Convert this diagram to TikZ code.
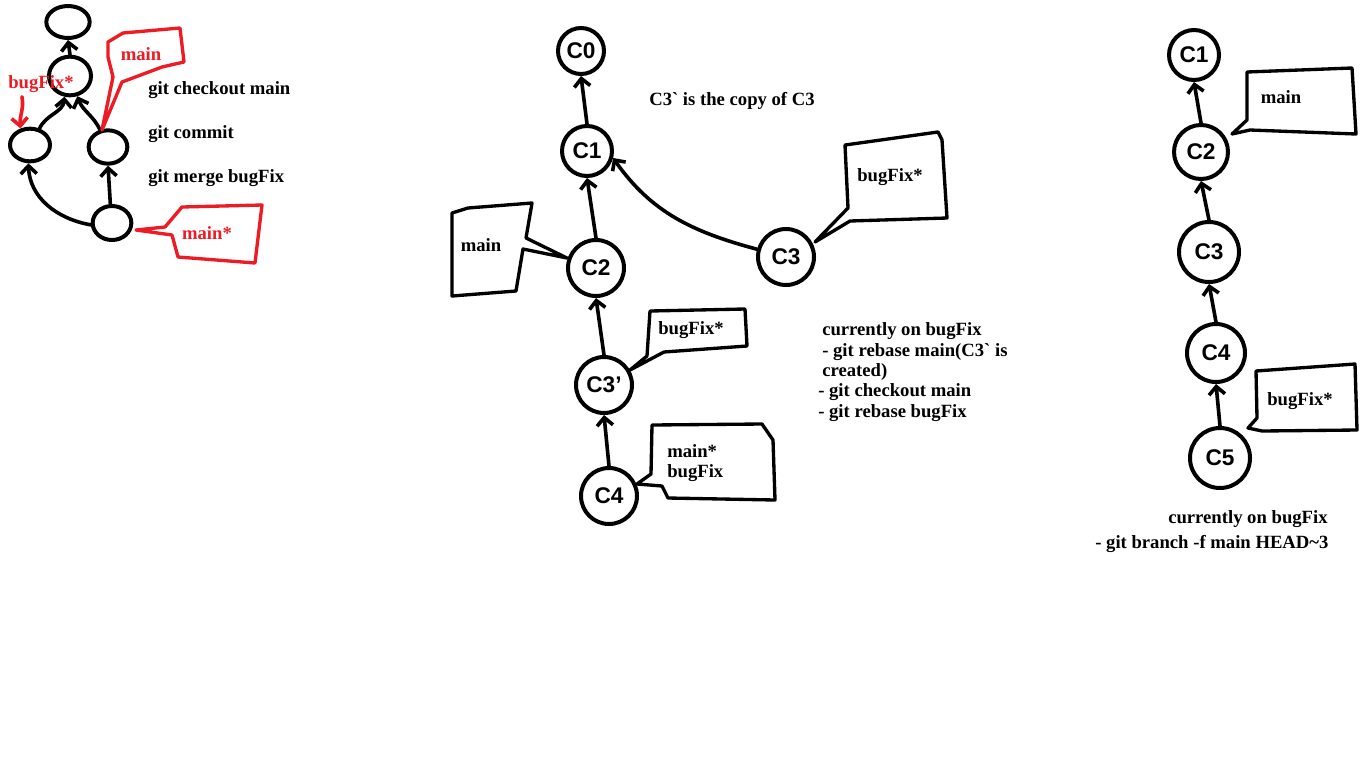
\documentclass[tikz,border=0pt]{standalone}
\usepackage{fontspec}
\setmainfont{Liberation Serif}
\setsansfont{Liberation Sans}
\usetikzlibrary{arrows.meta,shapes.geometric}
\definecolor{paintred}{RGB}{237,28,36}
\tikzset{
  commit/.style={circle, draw, line width=3pt, minimum size=#1, inner sep=0pt,
    font=\sffamily\bfseries\fontsize{17}{17}\selectfont},
  blob/.style={ellipse, draw, line width=3pt, inner sep=0pt},
  arr/.style={line width=2.7pt, line cap=round, -{Straight Barb[length=6pt,width=12pt]}},
  callout/.style={line width=2.5pt, line join=round},
  lbl/.style={font=\bfseries\fontsize{14}{16.5}\selectfont, inner sep=0pt},
}
\begin{document}
\begin{tikzpicture}[x=0.75pt,y=0.75pt]
\useasboundingbox[fill=white] (0,0) rectangle (1366,-768);
% ---------- left diagram ----------
\node[blob, minimum width=32.5pt, minimum height=24pt] (e1) at (68,-22) {};
\node[blob, minimum width=31.5pt, minimum height=29pt] (e2) at (70,-76) {};
\node[blob, minimum width=30pt, minimum height=24.5pt] (eL) at (30,-145) {};
\node[blob, minimum width=29pt, minimum height=25pt] (eM) at (108,-147) {};
\node[blob, minimum width=29pt, minimum height=25.5pt] (eB) at (112,-223) {};
\draw[arr] (e2.north) -- (e1.south);
\draw[arr] (eL.60) to[out=65,in=-95] (e2.255);
\draw[arr] (eM.115) to[out=115,in=-70] (e2.290);
\draw[arr] (eB.185) to[out=170,in=-88] (eL.265);
\draw[arr] (eB.95) -- (eM.270);
% red callouts
\draw[callout, paintred] (108,-42) -- (123,-33) -- (180,-28) -- (184,-62) -- (162,-67) -- (122,-82) -- (102,-130) -- (113,-77) -- (108,-57) -- cycle;
\node[lbl, text=paintred] (tmain) at (141,-54) {main};
\draw[callout, paintred] (136,-230) -- (165,-227) -- (182,-207) -- (262,-205) -- (255,-263) -- (178,-257) -- (172,-235) -- cycle;
\node[lbl, text=paintred] (tmainst) at (207,-233) {main*};
\node[lbl, text=paintred, anchor=west] (rb) at (8,-84) {bugFix*};
\draw[arr, paintred] ([xshift=10.5pt,yshift=-3pt]rb.south west) to[out=-80,in=95] (eL.120);
% commands
\node[lbl, anchor=west] (g1) at (148,-90) {git checkout main};
\node[lbl, anchor=west] (g2) at (148,-134) {git commit};
\node[lbl, anchor=west] (g3) at (148,-178) {git merge bugFix};
% ---------- middle diagram ----------
\node[commit=34.5pt] (m0) at (581,-51) {C0};
\node[commit=37.5pt] (m1) at (587,-151) {C1};
\node[commit=42pt] (m2) at (596,-268) {C2};
\node[commit=42pt] (m3) at (786,-257) {C3};
\node[commit=42pt] (m3p) at (604,-385) {C3'};
\node[commit=42pt] (m4) at (609,-496) {C4};
\draw[arr] (m1.north) -- (m0.south);
\draw[arr] (m2.north) -- (m1.south);
\draw[arr] (m3.165) to[out=165,in=-55] (m1.-15);
\draw[arr] (m3p.north) -- (m2.south);
\draw[arr] (m4.north) -- (m3p.south);
\draw[callout] (452,-213) -- (468,-208) -- (532,-203) -- (526,-238) -- (567,-258) -- (523,-249) -- (516,-291) -- (452,-296) -- cycle;
\node[lbl] (cm2) at (481,-245) {main};
\draw[callout] (845,-145) -- (938,-132) -- (942,-140) -- (947,-218) -- (850,-221) -- (815,-242) -- (848,-208) -- cycle;
\node[lbl] (cm3) at (890,-177) {bugFix*};
\draw[callout] (650,-311) -- (745,-309) -- (747,-346) -- (664,-352) -- (630,-370) -- (647,-356) -- cycle;
\node[lbl] (cm3p) at (691,-330) {bugFix*};
\draw[callout] (652,-425) -- (762,-424) -- (773,-440) -- (775,-500) -- (668,-498) -- (662,-486) -- (637,-484) -- (651,-474) -- cycle;
\node[lbl, anchor=west] (cm4a) at (667,-451) {main*};
\node[lbl, anchor=west] (cm4b) at (667,-473) {bugFix};
\node[lbl, anchor=west] (copy) at (649,-101) {C3\textasciigrave{} is the copy of C3};
\node[lbl, anchor=west] (t1) at (822,-331) {currently on bugFix};
\node[lbl, anchor=west] (t2) at (822,-352) {- git rebase main(C3\textasciigrave{} is};
\node[lbl, anchor=west] (t3) at (822,-372.5) {created)};
\node[lbl, anchor=west] (t4) at (818,-392) {- git checkout main};
\node[lbl, anchor=west] (t5) at (818,-413) {- git rebase bugFix};
% ---------- right diagram ----------
\node[commit=37.5pt] (r1) at (1194,-55) {C1};
\node[commit=40.5pt] (r2) at (1201,-152) {C2};
\node[commit=45pt] (r3) at (1209,-252) {C3};
\node[commit=43.5pt] (r4) at (1216,-353) {C4};
\node[commit=45pt] (r5) at (1220,-458) {C5};
\draw[arr] (r2.north) -- (r1.south);
\draw[arr] (r3.north) -- (r2.south);
\draw[arr] (r4.north) -- (r3.south);
\draw[arr] (r5.north) -- (r4.south);
\draw[callout] (1247,-72) -- (1352,-68) -- (1356,-134) -- (1250,-130) -- (1232,-134) -- (1247,-120) -- cycle;
\node[lbl] (cr2) at (1281,-97) {main};
\draw[callout] (1256,-371) -- (1355,-364) -- (1357,-430) -- (1262,-431) -- (1248,-428) -- (1257,-418) -- cycle;
\node[lbl] (cr5) at (1300,-401) {bugFix*};
\node[lbl, anchor=west] (s1) at (1168,-519) {currently on bugFix};
\node[lbl, anchor=west] (s2) at (1095,-544) {- git branch -f main HEAD\textasciitilde 3};
\end{tikzpicture}
\end{document}
